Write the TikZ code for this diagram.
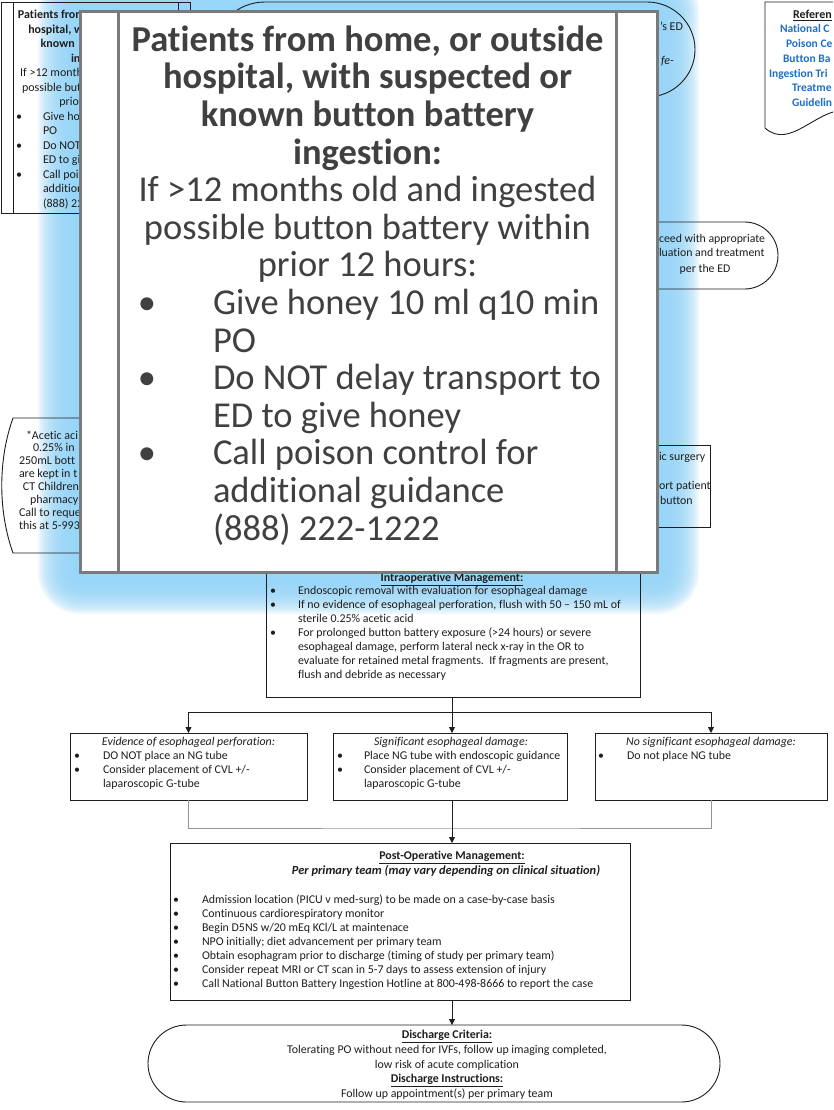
\documentclass[tikz,border=0pt]{standalone}
\usepackage{fontspec}
\setmainfont{Carlito}[Ligatures=NoCommon]
\usetikzlibrary{arrows.meta}

\definecolor{glowblue}{RGB}{150,214,248}
\definecolor{ink}{RGB}{30,30,30}
\definecolor{framegray}{RGB}{122,122,122}
\definecolor{zoomtext}{RGB}{64,64,64}
\definecolor{refblue}{RGB}{31,111,198}
\definecolor{joingray}{RGB}{150,150,150}

\newcommand\setfs[2]{\fontsize{#1}{#2}\selectfont}

\tikzset{
  outline/.style={draw=ink, line width=0.9pt},
  flowbox/.style={outline, rectangle, inner sep=0pt, outer sep=0pt},
  txt/.style={inner sep=0pt, outer sep=0pt, text=ink, font=\setfs{11.9}{13}},
  notetxt/.style={txt, font=\setfs{12}{13}},
  smalltxt/.style={txt, font=\setfs{12}{14}},
  reftxt/.style={txt, text=refblue, font=\bfseries\setfs{11.5}{14}},
  zoomhead/.style={inner sep=0pt, outer sep=0pt, text=zoomtext, font=\bfseries\setfs{36.5}{38}},
  zoombody/.style={inner sep=0pt, outer sep=0pt, text=zoomtext, font=\setfs{36.5}{38}},
  link/.style={draw=ink, line width=0.8pt},
  arrowlink/.style={link, -{Triangle[width=6pt,length=6pt]}},
  joinline/.style={draw=joingray, line width=0.9pt},
  zoomframe/.style={draw=framegray, line width=3pt},
}

\begin{document}
\begin{tikzpicture}[x=1pt,y=-1pt]
\useasboundingbox (0,0) rectangle (833,1110);
\clip (0,0) rectangle (833,1110);
\fill[white] (0,0) rectangle (833,1110);

% soft blue halo around the enlarged panel
\foreach \d in {42,40,...,2}
  \fill[glowblue, fill opacity=0.15, rounded corners=\d pt]
    ({80-\d},{12-\d}) rectangle ({657+\d},{572+\d});

% ---------- start box (top left); the panel below covers its right part ----------
\node[flowbox, minimum width=189pt, minimum height=211pt] (homebox) at (95.5,107.5) {};
\draw[outline] ([xshift=12pt]homebox.north west) -- ([xshift=12pt]homebox.south west);
\draw[outline] ([xshift=-12pt]homebox.north east) -- ([xshift=-12pt]homebox.south east);
\foreach \yy/\txt [count=\i] in {16.5/{Patients from\phantom{\ home, or outside}},
    31/{hospital, w\phantom{ith suspected or}},
    45.5/{known\phantom{\ button battery}}, 60/{in\phantom{gestion:}}}
  \node[smalltxt, font=\bfseries\setfs{12}{14}, anchor=mid] (hh\i) at (95.5,\yy) {\txt};
\foreach \yy/\txt [count=\i] in {74.5/{If >12 months\phantom{\ old and ingested}},
    89/{possible button\phantom{\ battery within}},
    103.5/{prior\phantom{\ 12 hours:}}}
  \node[smalltxt, anchor=mid] (hc\i) at (95.5,\yy) {\txt};
\foreach \yy [count=\i] in {118,147,176}
  \node[smalltxt, anchor=mid] (hb\i) at (19,\yy) {•};
\foreach \yy/\txt [count=\i] in {118/{Give honey}, 132.5/{PO}, 147/{Do NOT},
    161.5/{ED to give}, 176/{Call poison}, 190.5/{additional}, 205/{(888) 222}}
  \node[smalltxt, anchor=mid west] (hl\i) at (43,\yy) {\txt};

% ---------- terminator at the top ----------
\draw[outline] (265,2) -- (647,2)
  arc[start angle=-90, end angle=90, x radius=48, y radius=47.5] -- (265,97)
  arc[start angle=90, end angle=270, x radius=50, y radius=47.5] -- cycle;
\node[smalltxt, anchor=mid west] (edline) at (660,28) {’s ED};
\node[smalltxt, font=\itshape\setfs{12}{14}, anchor=mid west] (feline) at (661,62) {fe-};

% ---------- references (document shape) ----------
\draw[outline] (765,128) -- (765,2) -- (845,2) -- (845,110)
  .. controls (815,110) and (790,150) .. (765,128);
\node[smalltxt, font=\bfseries\setfs{12}{14}, anchor=mid west] (refhead) at (793,16) {\underline{Referen}};
\foreach \xx/\yy/\txt [count=\i] in {780/30.5/{National C}, 786/45.5/{Poison Ce}, 783/60.5/{Button Ba},
    769/75/{Ingestion Tri}, 792/89.5/{Treatme}, 792/104/{Guidelin}}
  \node[reftxt, anchor=mid west] (ref\i) at (\xx,\yy) {\txt};

% ---------- terminator on the right ----------
\draw[outline] (640,222) -- (744.5,222) arc[start angle=-90, end angle=90, radius=33.5] -- (640,289);
\node[smalltxt, font=\setfs{11.8}{14}, anchor=mid west] (proc1) at (659,240) {ceed with appropriate};
\node[smalltxt, font=\setfs{11.8}{14}, anchor=mid west] (proc2) at (659,254.5) {luation and treatment};
\node[smalltxt, font=\setfs{11.8}{14}, anchor=mid] (proc3) at (705,270) {per the ED};

% ---------- acetic acid note (left) ----------
\draw[outline] (100,418) -- (13,418) .. controls (-2,460) and (-2,511) .. (13,553) -- (100,553);
\foreach \xx/\yy/\txt [count=\i] in {26/437/{*Acetic aci}, 33/449.5/{0.25\% in}, 19/462.5/{250mL bott},
    19/475.5/{are kept in t}, 23/488/{CT Children}, 30/501/{pharmacy}, 19/514/{Call to reque},
    19/527/{this at 5-993}}
  \node[notetxt, anchor=mid west] (acid\i) at (\xx,\yy) {\txt};

% ---------- surgery box (right) ----------
\draw[outline] (640,445) -- (710,445) -- (710,527) -- (640,527);
\node[txt, anchor=mid west] (surg1) at (659,458) {ic surgery};
\node[txt, anchor=mid west] (surg2) at (659,487) {ort patient};
\node[txt, anchor=mid west] (surg3) at (660,502) {button};

% ---------- intraoperative management ----------
\node[flowbox, minimum width=374pt, minimum height=137pt] (intra) at (453,628.5) {};
\node[txt, font=\bfseries\setfs{11.9}{13}, anchor=mid] (intrahead) at (452,579) {\underline{Intraoperative Management:}};
\foreach \yy [count=\i] in {592,606,634}
  \node[txt, anchor=mid] (ib\i) at (273,\yy) {•};
\foreach \yy/\txt [count=\i] in {592/{Endoscopic removal with evaluation for esophageal damage},
    606/{If no evidence of esophageal perforation, flush with 50 – 150 mL of},
    620/{sterile 0.25\% acetic acid},
    634/{For prolonged button battery exposure (>24 hours) or severe},
    648/{esophageal damage, perform lateral neck x-ray in the OR to},
    662/{evaluate for retained metal fragments.\ \ If fragments are present,},
    676/{flush and debride as necessary}}
  \node[txt, anchor=mid west] (il\i) at (298,\yy) {\txt};

% ---------- three outcome boxes ----------
\node[flowbox, minimum width=237pt, minimum height=67pt] (perf) at (188.5,766.5) {};
\node[flowbox, minimum width=234pt, minimum height=67pt] (damage) at (450,766.5) {};
\node[flowbox, minimum width=232pt, minimum height=67pt] (nodamage) at (711,766.5) {};

\node[txt, font=\itshape\setfs{11.9}{13}, anchor=mid] (perfhead) at (188.5,743) {Evidence of esophageal perforation:};
\node[txt, anchor=mid] (pb1) at (77,757) {•};
\node[txt, anchor=mid] (pb2) at (77,771) {•};
\node[txt, anchor=mid west] (pl1) at (103,757) {DO NOT place an NG tube};
\node[txt, anchor=mid west] (pl2) at (103,771) {Consider placement of CVL +/-};
\node[txt, anchor=mid west] (pl3) at (103,785) {laparoscopic G-tube};

\node[txt, font=\itshape\setfs{11.9}{13}, anchor=mid] (dmghead) at (451,743) {Significant esophageal damage:};
\node[txt, anchor=mid] (db1) at (340,757) {•};
\node[txt, anchor=mid] (db2) at (340,771) {•};
\node[txt, anchor=mid west] (dl1) at (364,757) {Place NG tube with endoscopic guidance};
\node[txt, anchor=mid west] (dl2) at (364,771) {Consider placement of CVL +/-};
\node[txt, anchor=mid west] (dl3) at (364,785) {laparoscopic G-tube};

\node[txt, font=\itshape\setfs{11.9}{13}, anchor=mid] (ndhead) at (711,743) {No significant esophageal damage:};
\node[txt, anchor=mid] (nb1) at (601,757) {•};
\node[txt, anchor=mid west] (nl1) at (627,757) {Do not place NG tube};

% ---------- post-operative management ----------
\node[flowbox, minimum width=460pt, minimum height=157pt] (postop) at (400,921.5) {};
\node[txt, font=\bfseries\setfs{11.9}{13}, anchor=mid] (posthead) at (452,857) {\underline{Post-Operative Management:}};
\node[txt, font=\bfseries\itshape\setfs{12.4}{13}, anchor=mid] (postsub) at (446,872)
  {Per primary team (may vary depending on clinical situation)};
\foreach \txt [count=\i] in {{Admission location (PICU v med-surg) to be made on a case-by-case basis},
    {Continuous cardiorespiratory monitor},
    {Begin D5NS w/20 mEq KCl/L at maintenace},
    {NPO initially; diet advancement per primary team},
    {Obtain esophagram prior to discharge (timing of study per primary team)},
    {Consider repeat MRI or CT scan in 5-7 days to assess extension of injury},
    {Call National Button Battery Ingestion Hotline at 800-498-8666 to report the case}}
{
  \node[txt, anchor=mid] (qb\i) at (176,{887+14*\i}) {•};
  \node[txt, anchor=mid west] (ql\i) at (202,{887+14*\i}) {\txt};
}

% ---------- discharge ----------
\node[flowbox, rounded corners=38.5pt, minimum width=572pt, minimum height=77pt] (discharge) at (434,1063.5) {};
\node[txt, font=\bfseries\setfs{11.9}{13}, anchor=mid] (dc1) at (447,1036) {\underline{Discharge Criteria:}};
\node[txt, anchor=mid] (dc2) at (447,1051) {Tolerating PO without need for IVFs, follow up imaging completed,};
\node[txt, anchor=mid] (dc3) at (447,1066) {low risk of acute complication};
\node[txt, font=\bfseries\setfs{11.9}{13}, anchor=mid] (dc4) at (447,1080.5) {\underline{Discharge Instructions:}};
\node[txt, anchor=mid] (dc5) at (447,1095) {Follow up appointment(s) per primary team};

% ---------- connectors ----------
\coordinate (split) at (452,712);
\coordinate (merge) at (452,828);
\draw[link] (intra.south -| split) -- (split);
\draw[arrowlink] (split) -| (perf.north);
\draw[arrowlink] (split) -- (damage.north -| split);
\draw[arrowlink] (split) -| (nodamage.north);
\draw[joinline] (perf.south) |- (merge) -| (nodamage.south);
\draw[arrowlink] (damage.south -| split) -- (postop.north -| split);
\draw[arrowlink] (postop.south -| split) -- (discharge.north -| split);

% ---------- enlarged view of the start box ----------
\node[zoomframe, fill=white, minimum width=577pt, minimum height=560pt, inner sep=0pt] (zoom) at (368.5,292) {};
\draw[zoomframe] ([xshift=40pt]zoom.north west) -- ([xshift=40pt]zoom.south west);
\draw[zoomframe] ([xshift=-42pt]zoom.north east) -- ([xshift=-42pt]zoom.south east);
\foreach \txt [count=\i] in {{Patients from home, or outside}, {hospital, with suspected or},
    {known button battery}, {ingestion:}}
  \node[zoomhead, anchor=mid] (zh\i) at (367.5,{49+37.6*(\i-1)}) {\txt};
\foreach \txt [count=\i] in {{If >12 months old and ingested}, {possible button battery within},
    {prior 12 hours:}}
  \node[zoombody, anchor=mid] (zc\i) at (367.5,{199.4+37.6*(\i-1)}) {\txt};
\foreach \k [count=\i] in {0,2,4}
  \node[zoombody, anchor=mid] (zb\i) at (147,{312.2+37.6*\k}) {•};
\foreach \txt [count=\i] in {{Give honey 10 ml q10 min}, {PO}, {Do NOT delay transport to},
    {ED to give honey}, {Call poison control for}, {additional guidance}, {(888) 222-1222}}
  \node[zoombody, anchor=mid west] (zl\i) at (213,{312.2+37.6*(\i-1)}) {\txt};
\end{tikzpicture}
\end{document}
